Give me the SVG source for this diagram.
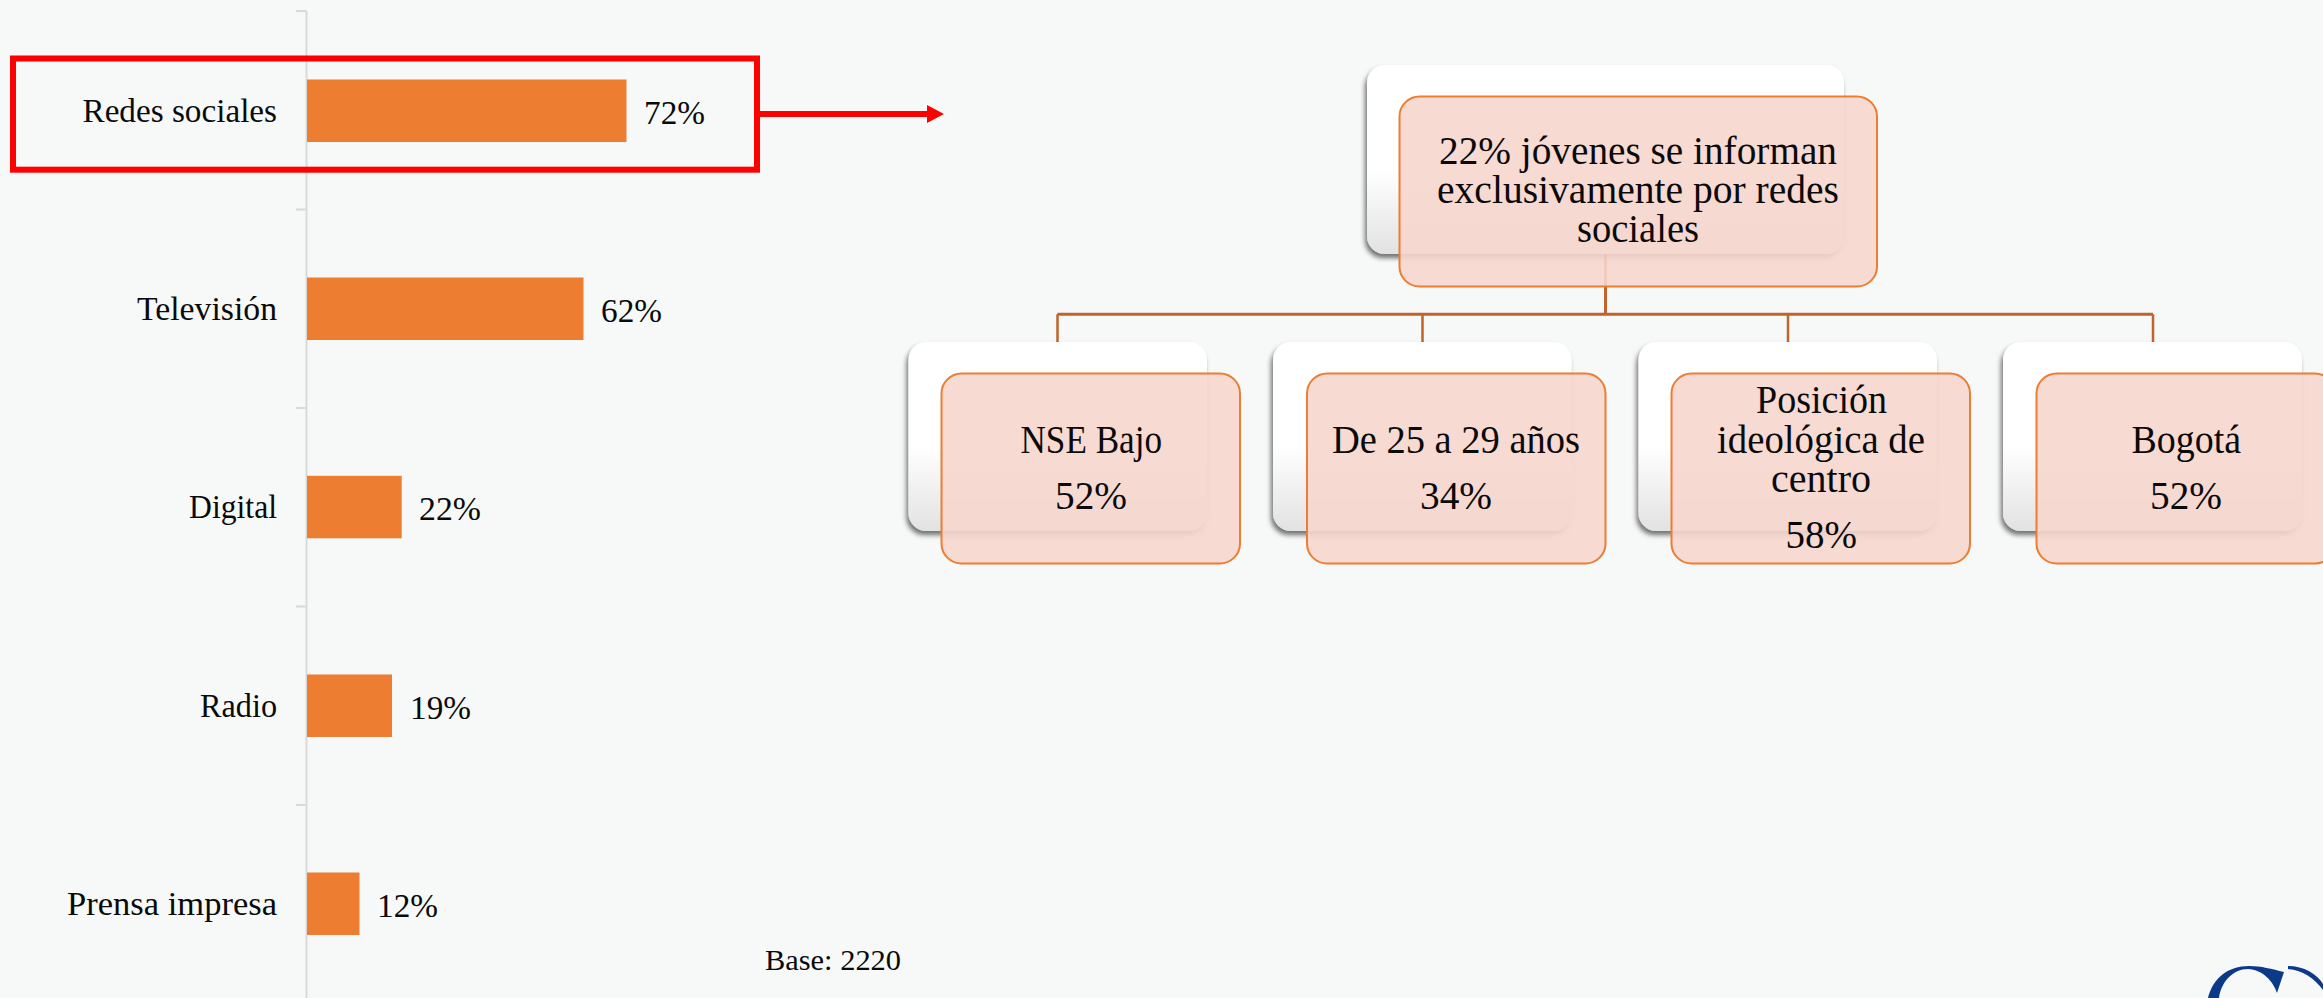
<svg xmlns="http://www.w3.org/2000/svg" width="2323" height="998" viewBox="0 0 2323 998">
<style>
text{font-family:"Liberation Serif","Times New Roman",serif;fill:#0a0a0a}
.l{font-size:33px;text-anchor:start}
.c{font-size:39px;text-anchor:start}
.bar{fill:#ed7d31}
.tick{stroke:#d9d9d9;stroke-width:2;fill:none}
.back{fill:url(#g);filter:url(#s)}
.front{fill:#f6d6cd;fill-opacity:.9;stroke:#ed7d31;stroke-width:2}
.conn{stroke:#c0642b;fill:none;stroke-width:3}
.drop{stroke:#c0642b;fill:none;stroke-width:2.500}
</style>
<defs>
<linearGradient id="g" x1="0" y1="0" x2="0" y2="1"><stop offset=".55" stop-color="#fff"/><stop offset="1" stop-color="#e2e2e2"/></linearGradient>
<filter id="s" x="-10%" y="-10%" width="120%" height="125%"><feDropShadow dx="-2" dy="4" stdDeviation="2.500" flood-color="#000" flood-opacity=".55"/></filter>
</defs>
<rect width="2323" height="998" fill="#f7f9f8"/>
<g id="axis">
<path class="tick" d="M306.500 11V998M296 11H306.500M296 209.500H306.500M296 408H306.500M296 606.500H306.500M296 805H306.500"/>
</g>
<g id="bar-redes"><rect class="bar" x="307" y="79.500" width="319.500" height="62.500"/>
<text class="l" x="82.500" y="121.500" textLength="194.500" lengthAdjust="spacingAndGlyphs">Redes sociales</text>
<text class="l" x="644" y="124" textLength="61" lengthAdjust="spacingAndGlyphs">72%</text></g>
<g id="bar-tv"><rect class="bar" x="307" y="277.500" width="276.500" height="62.500"/>
<text class="l" x="137" y="320" textLength="140" lengthAdjust="spacingAndGlyphs">Televisión</text>
<text class="l" x="601" y="322" textLength="61" lengthAdjust="spacingAndGlyphs">62%</text></g>
<g id="bar-digital"><rect class="bar" x="307" y="475.800" width="94.700" height="62.500"/>
<text class="l" x="189" y="518" textLength="88" lengthAdjust="spacingAndGlyphs">Digital</text>
<text class="l" x="419" y="520" textLength="62" lengthAdjust="spacingAndGlyphs">22%</text></g>
<g id="bar-radio"><rect class="bar" x="307" y="674.500" width="85" height="62.500"/>
<text class="l" x="200" y="716.500" textLength="77" lengthAdjust="spacingAndGlyphs">Radio</text>
<text class="l" x="410" y="719" textLength="61" lengthAdjust="spacingAndGlyphs">19%</text></g>
<g id="bar-prensa"><rect class="bar" x="307" y="872.500" width="52.500" height="62.500"/>
<text class="l" x="67" y="915" textLength="210" lengthAdjust="spacingAndGlyphs">Prensa impresa</text>
<text class="l" x="377" y="916.500" textLength="61" lengthAdjust="spacingAndGlyphs">12%</text></g>
<g id="base"><text x="765" y="970" font-size="30" textLength="136" lengthAdjust="spacingAndGlyphs">Base: 2220</text></g>
<g id="highlight">
<rect x="13" y="58.500" width="744" height="111.200" fill="none" stroke="#ff0000" stroke-width="6"/>
<path d="M760 111H927V105L944 114L927 123V117H760Z" fill="#ff0000"/>
</g>
<g id="connectors">
<path class="conn" d="M1605.500 254V314.300M1057.500 314.300H2153"/>
<path class="drop" d="M1057.500 314.300V342M1422.500 314.300V342M1788 314.300V342M2153 314.300V342"/>
</g>
<g id="root">
<rect class="back" x="1367" y="65" width="477" height="189" rx="18"/>
<rect class="front" x="1399.500" y="96.500" width="477.500" height="190" rx="20"/>
<text class="c" x="1439" y="164" textLength="398" lengthAdjust="spacingAndGlyphs">22% jóvenes se informan</text>
<text class="c" x="1437" y="203" textLength="402" lengthAdjust="spacingAndGlyphs">exclusivamente por redes</text>
<text class="c" x="1577" y="242" textLength="122" lengthAdjust="spacingAndGlyphs">sociales</text>
</g>
<g id="nse">
<rect class="back" x="908.500" y="342" width="298.500" height="189" rx="18"/>
<rect class="front" x="941.500" y="373.500" width="298.500" height="190" rx="20"/>
<text class="c" x="1020.500" y="453" textLength="141.500" lengthAdjust="spacingAndGlyphs">NSE Bajo</text>
<text class="c" x="1055" y="509" textLength="72" lengthAdjust="spacingAndGlyphs">52%</text>
</g>
<g id="edad">
<rect class="back" x="1273" y="342" width="298.500" height="189" rx="18"/>
<rect class="front" x="1307" y="373.500" width="298.500" height="190" rx="20"/>
<text class="c" x="1332" y="453" textLength="248" lengthAdjust="spacingAndGlyphs">De 25 a 29 años</text>
<text class="c" x="1420" y="509" textLength="72" lengthAdjust="spacingAndGlyphs">34%</text>
</g>
<g id="ideologia">
<rect class="back" x="1638.500" y="342" width="298.500" height="189" rx="18"/>
<rect class="front" x="1671.500" y="373.500" width="298.500" height="190" rx="20"/>
<text class="c" x="1756" y="413" textLength="131" lengthAdjust="spacingAndGlyphs">Posición</text>
<text class="c" x="1717" y="453" textLength="208" lengthAdjust="spacingAndGlyphs">ideológica de</text>
<text class="c" x="1771" y="492" textLength="100" lengthAdjust="spacingAndGlyphs">centro</text>
<text class="c" x="1785.500" y="548" textLength="71.500" lengthAdjust="spacingAndGlyphs">58%</text>
</g>
<g id="bogota">
<rect class="back" x="2003" y="342" width="299" height="189" rx="18"/>
<rect class="front" x="2036.500" y="373.500" width="298.500" height="190" rx="20"/>
<text class="c" x="2131.500" y="453" textLength="109.500" lengthAdjust="spacingAndGlyphs">Bogotá</text>
<text class="c" x="2150" y="509" textLength="72" lengthAdjust="spacingAndGlyphs">52%</text>
</g>
<g id="logo" fill="#0c3a8a">
<path d="M2208 998C2213 978 2228 966 2249 966C2261 966 2272 969 2284 972L2277 993C2273 981 2263 970 2248 969C2233 969 2221 982 2219 998Z"/>
<path d="M2288 966C2304 966 2317 974 2323 984V990C2315 979 2303 970 2288 969Z"/>
</g>
</svg>
